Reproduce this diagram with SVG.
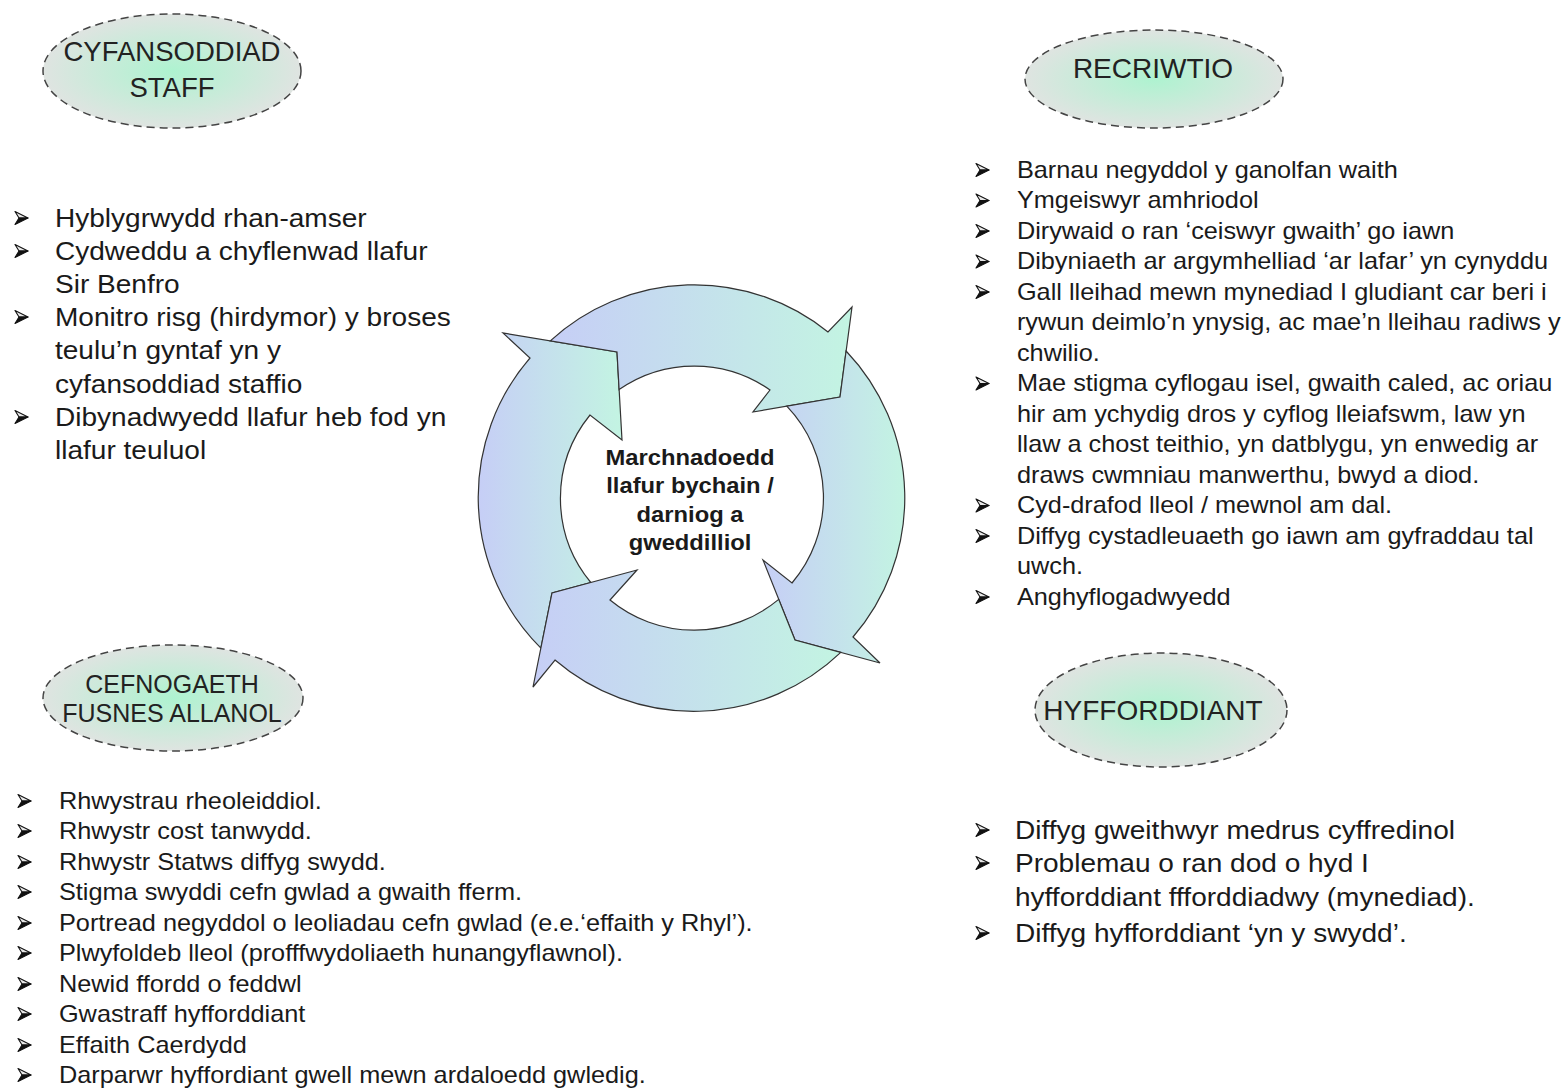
<svg xmlns="http://www.w3.org/2000/svg" xmlns:xlink="http://www.w3.org/1999/xlink" width="1563" height="1088" viewBox="0 0 1563 1088">
<style>
text{font-family:"Liberation Sans",Arial,sans-serif;fill:#1a1a1a}
.hd{font-size:28px;text-anchor:middle;fill:#222}
.tl{font-size:25.5px}
.rl{font-size:23px}
.bl{font-size:23px}
.br{font-size:25.5px}
.ct{font-size:21.6px;font-weight:bold;text-anchor:middle}
.ell{fill:url(#eg);stroke:#444;stroke-width:1.5;stroke-dasharray:8 5}
.arr{fill:url(#ag);stroke:#333;stroke-width:1.2;stroke-linejoin:miter}
</style>
<defs>
<radialGradient id="eg" cx="0.5" cy="0.5" r="0.5">
<stop offset="0" stop-color="#aef3d0"/>
<stop offset="1" stop-color="#dfe4e1"/>
</radialGradient>
<linearGradient id="ag" x1="0" y1="0" x2="1" y2="0">
<stop offset="0" stop-color="#c6cef6"/>
<stop offset="1" stop-color="#c3f4e2"/>
</linearGradient>
<g id="bul">
<path d="M0,-6.5 L13,0 L4,0 Z" fill="#e8e8e8" stroke="#111" stroke-width="1.1" stroke-linejoin="round"/>
<path d="M4,0 L13,0 L0,6.5 Z" fill="#111" stroke="#111" stroke-width="1.1" stroke-linejoin="round"/>
</g>
</defs>
<rect width="1563" height="1088" fill="#fff"/>

<g id="node-cyfansoddiad-staff">
<ellipse class="ell" cx="172" cy="71" rx="129" ry="57"/>
<text class="hd" x="172" y="60.5" style="font-size:27.5px">CYFANSODDIAD</text>
<text class="hd" x="172" y="96.5" style="font-size:27.5px">STAFF</text>
</g>

<g id="node-recriwtio">
<ellipse class="ell" cx="1154" cy="79" rx="129" ry="49"/>
<text class="hd" x="1153" y="78">RECRIWTIO</text>
</g>

<g id="node-cefnogaeth">
<ellipse class="ell" cx="173" cy="698" rx="130" ry="53"/>
<text class="hd" x="172" y="693" style="font-size:25px">CEFNOGAETH</text>
<text class="hd" x="172" y="722" style="font-size:25px">FUSNES ALLANOL</text>
</g>

<g id="node-hyfforddiant">
<ellipse class="ell" cx="1161" cy="710" rx="126" ry="57"/>
<text class="hd" x="1153" y="720">HYFFORDDIANT</text>
</g>

<g id="cycle">
<path class="arr" d="M 540.9 648.1 A 213 213 0 0 1 530 358 L 503 333 L 617 352 L 622 440 L 590 415 A 132 132 0 0 0 590.8 582.5 L 552 593 Z"/>
<path class="arr" d="M 550.3 340.9 A 213 213 0 0 1 828 332 L 852 307 L 840 397 L 753 412 L 770 390 A 132 132 0 0 0 619.1 389.6 L 617 352 Z"/>
<path class="arr" d="M 846.1 351 A 213 213 0 0 1 853 637 L 880 663 L 795 640 L 763 560 L 792 583 A 132 132 0 0 0 786.8 406.2 L 840 397 Z"/>
<path class="arr" d="M 840.8 652.4 A 213 213 0 0 1 555 660 L 533 687 L 552 593 L 637 570 L 610 600 A 132 132 0 0 0 778.7 599.4 L 795 640 Z"/>
</g>

<g id="node-centre" transform="scale(1.1 1)">
<text class="ct" x="627.3" y="465">Marchnadoedd</text>
<text class="ct" x="627.3" y="493.3">llafur bychain /</text>
<text class="ct" x="627.3" y="521.7">darniog a</text>
<text class="ct" x="627.3" y="550">gweddilliol</text>
</g>

<g id="list-staff">
<use xlink:href="#bul" x="15" y="218"/>
<use xlink:href="#bul" x="15" y="251"/>
<use xlink:href="#bul" x="15" y="317"/>
<use xlink:href="#bul" x="15" y="417"/>
<g transform="scale(1.1 1)">
<text class="tl" x="50" y="227">Hyblygrwydd rhan-amser</text>
<text class="tl" x="50" y="260">Cydweddu a chyflenwad llafur</text>
<text class="tl" x="50" y="293">Sir Benfro</text>
<text class="tl" x="50" y="326">Monitro risg (hirdymor) y broses</text>
<text class="tl" x="50" y="359">teulu’n gyntaf yn y</text>
<text class="tl" x="50" y="393">cyfansoddiad staffio</text>
<text class="tl" x="50" y="426">Dibynadwyedd llafur heb fod yn</text>
<text class="tl" x="50" y="459">llafur teuluol</text>
</g>
</g>

<g id="list-recriwtio">
<use xlink:href="#bul" x="976" y="170"/>
<use xlink:href="#bul" x="976" y="200.5"/>
<use xlink:href="#bul" x="976" y="231"/>
<use xlink:href="#bul" x="976" y="261.5"/>
<use xlink:href="#bul" x="976" y="292"/>
<use xlink:href="#bul" x="976" y="383.5"/>
<use xlink:href="#bul" x="976" y="505.5"/>
<use xlink:href="#bul" x="976" y="536"/>
<use xlink:href="#bul" x="976" y="597"/>
<g transform="scale(1.1 1)">
<text class="rl" x="924.5" y="178">Barnau negyddol y ganolfan waith</text>
<text class="rl" x="924.5" y="208.5">Ymgeiswyr amhriodol</text>
<text class="rl" x="924.5" y="239">Dirywaid o ran ‘ceiswyr gwaith’ go iawn</text>
<text class="rl" x="924.5" y="269.5">Dibyniaeth ar argymhelliad ‘ar lafar’ yn cynyddu</text>
<text class="rl" x="924.5" y="300">Gall lleihad mewn mynediad I gludiant car beri i</text>
<text class="rl" x="924.5" y="330.5">rywun deimlo’n ynysig, ac mae’n lleihau radiws y</text>
<text class="rl" x="924.5" y="361">chwilio.</text>
<text class="rl" x="924.5" y="391.5">Mae stigma cyflogau isel, gwaith caled, ac oriau</text>
<text class="rl" x="924.5" y="422">hir am ychydig dros y cyflog lleiafswm, law yn</text>
<text class="rl" x="924.5" y="452.5">llaw a chost teithio, yn datblygu, yn enwedig ar</text>
<text class="rl" x="924.5" y="483">draws cwmniau manwerthu, bwyd a diod.</text>
<text class="rl" x="924.5" y="513.5">Cyd-drafod lleol / mewnol am dal.</text>
<text class="rl" x="924.5" y="544">Diffyg cystadleuaeth go iawn am gyfraddau tal</text>
<text class="rl" x="924.5" y="574.5">uwch.</text>
<text class="rl" x="924.5" y="605">Anghyflogadwyedd</text>
</g>
</g>

<g id="list-cefnogaeth">
<use xlink:href="#bul" x="18" y="801"/>
<use xlink:href="#bul" x="18" y="831"/>
<use xlink:href="#bul" x="18" y="862"/>
<use xlink:href="#bul" x="18" y="892"/>
<use xlink:href="#bul" x="18" y="923"/>
<use xlink:href="#bul" x="18" y="953"/>
<use xlink:href="#bul" x="18" y="984"/>
<use xlink:href="#bul" x="18" y="1014"/>
<use xlink:href="#bul" x="18" y="1045"/>
<use xlink:href="#bul" x="18" y="1075"/>
<g transform="scale(1.1 1)">
<text class="bl" x="53.6" y="809">Rhwystrau rheoleiddiol.</text>
<text class="bl" x="53.6" y="839">Rhwystr cost tanwydd.</text>
<text class="bl" x="53.6" y="870">Rhwystr Statws diffyg swydd.</text>
<text class="bl" x="53.6" y="900">Stigma swyddi cefn gwlad a gwaith fferm.</text>
<text class="bl" x="53.6" y="931">Portread negyddol o leoliadau cefn gwlad (e.e.‘effaith y Rhyl’).</text>
<text class="bl" x="53.6" y="961">Plwyfoldeb lleol (profffwydoliaeth hunangyflawnol).</text>
<text class="bl" x="53.6" y="992">Newid ffordd o feddwl</text>
<text class="bl" x="53.6" y="1022">Gwastraff hyfforddiant</text>
<text class="bl" x="53.6" y="1053">Effaith Caerdydd</text>
<text class="bl" x="53.6" y="1083">Darparwr hyffordiant gwell mewn ardaloedd gwledig.</text>
</g>
</g>

<g id="list-hyfforddiant">
<use xlink:href="#bul" x="976" y="830"/>
<use xlink:href="#bul" x="976" y="863"/>
<use xlink:href="#bul" x="976" y="933"/>
<g transform="scale(1.1 1)">
<text class="br" x="922.7" y="839">Diffyg gweithwyr medrus cyffredinol</text>
<text class="br" x="922.7" y="872">Problemau o ran dod o hyd I</text>
<text class="br" x="922.7" y="906">hyfforddiant ffforddiadwy (mynediad).</text>
<text class="br" x="922.7" y="942">Diffyg hyfforddiant ‘yn y swydd’.</text>
</g>
</g>
</svg>
